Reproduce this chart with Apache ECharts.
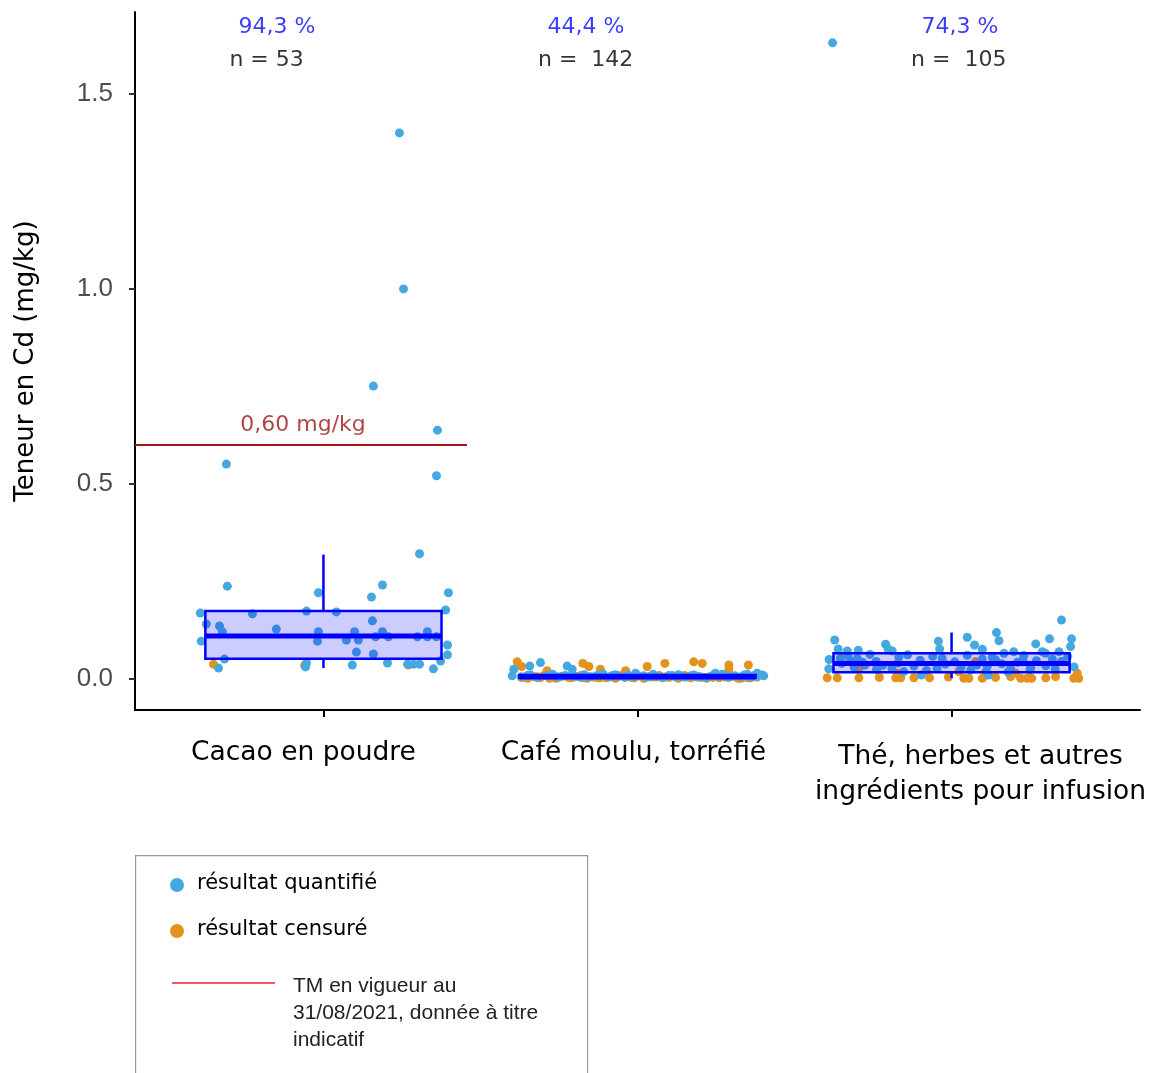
<!DOCTYPE html>
<html>
<head>
<meta charset="utf-8">
<script src="https://cdn.jsdelivr.net/npm/echarts@6/dist/echarts.min.js"></script>
<style>html,body{margin:0;padding:0;background:#fff;}#c{width:1155px;height:1073px;}</style>
</head>
<body>
<div id="c"></div>
<script>
// ---- Data ----
const categories = ['Cacao en poudre', 'Café moulu, torréfié', 'Thé, herbes et autres\ningrédients pour infusion'];
const yTicks = [0, 0.5, 1.0, 1.5];
const pctLabels = ['94,3 %', '44,4 %', '74,3 %'];
const pctPos = [[0.852, 1.672], [1.836, 1.672], [3.027, 1.672]];
const nLabels = ['n = 53', 'n =  142', 'n =  105'];
const nPos = [[0.819, 1.585], [1.835, 1.585], [3.023, 1.585]];
const thresholdValue = 0.60;
const thresholdRange = [0.4, 1.457];
const thresholdLabel = '0,60 mg/kg';
const thresholdLabelPos = [0.935, 0.65];
// box stats: [lowerWhisker, Q1, median, Q3, upperWhisker]
const boxCacao = [0.028, 0.052, 0.110, 0.174, 0.319];
const boxCafe = [0.000, 0.003, 0.005, 0.010, 0.012];
const boxThe = [0.002, 0.017, 0.040, 0.066, 0.119];
// points: [jitter offset from category, value mg/kg]
const cacaoQuant = [[0.242,1.400],[0.255,1.000],[0.159,0.751],[0.363,0.638],[0.360,0.521],[-0.309,0.551],[0.306,0.321],[0.188,0.241],[-0.306,0.238],[0.153,0.210],[0.398,0.221],[-0.016,0.221],[0.389,0.177],[-0.392,0.169],[-0.226,0.167],[-0.054,0.174],[0.041,0.172],[0.156,0.149],[-0.373,0.141],[-0.331,0.136],[-0.322,0.121],[-0.150,0.128],[-0.016,0.121],[-0.019,0.097],[-0.389,0.097],[0.099,0.121],[0.073,0.100],[0.111,0.100],[0.188,0.121],[0.166,0.108],[0.207,0.108],[0.299,0.108],[0.331,0.121],[0.331,0.108],[0.360,0.108],[0.105,0.069],[0.159,0.064],[0.395,0.087],[0.395,0.062],[-0.315,0.051],[-0.334,0.028],[-0.054,0.041],[-0.057,0.031],[0.092,0.036],[0.204,0.041],[0.268,0.038],[0.287,0.038],[0.306,0.038],[0.350,0.026],[0.373,0.046]];
const cacaoCens = [[-0.350,0.038],[-0.060,0.035],[0.270,0.036]];
const cafeQuant = [[-0.394,0.025],[-0.399,0.008],[-0.343,0.033],[-0.309,0.042],[-0.224,0.033],[-0.208,0.025],[-0.006,0.015],[0.248,0.015],[0.381,0.015],[0.397,0.010],[0.402,0.008],
[-0.37,0.006],[-0.34,0.010],[-0.32,0.004],[-0.29,0.008],[-0.27,0.012],[-0.25,0.005],[-0.23,0.009],[-0.20,0.007],[-0.18,0.004],[-0.17,0.011],
[-0.15,0.006],[-0.13,0.008],[-0.11,0.013],[-0.09,0.005],[-0.08,0.009],[-0.06,0.007],[-0.04,0.004],[-0.03,0.010],[-0.01,0.006],[0.02,0.008],
[0.03,0.005],[0.05,0.012],[0.06,0.007],[0.08,0.004],[0.10,0.009],[0.12,0.006],[0.13,0.011],[0.15,0.005],[0.17,0.008],[0.18,0.010],
[0.20,0.006],[0.22,0.004],[0.24,0.009],[0.26,0.007],[0.27,0.012],[0.29,0.005],[0.31,0.008],[0.33,0.006],[0.34,0.010],[0.36,0.004],
[0.38,0.007],[-0.35,0.009],[-0.26,0.006],[-0.16,0.005],[-0.07,0.011],[0.04,0.006],[0.11,0.008],[0.19,0.005],[0.28,0.009],[0.35,0.012],
[-0.21,0.008],[0.14,0.007]];
const cafeCens = [[-0.383,0.044],[-0.369,0.032],[-0.288,0.021],[-0.174,0.040],[-0.155,0.032],[-0.118,0.025],[-0.038,0.021],[0.031,0.032],[0.087,0.040],[0.179,0.044],[0.206,0.040],[0.291,0.036],[0.291,0.025],[0.353,0.036],
[-0.37,0.004],[-0.35,0.002],[-0.33,0.006],[-0.31,0.003],[-0.30,0.008],[-0.27,0.005],[-0.26,0.002],[-0.24,0.007],[-0.22,0.004],[-0.21,0.003],
[-0.19,0.006],[-0.18,0.009],[-0.16,0.002],[-0.14,0.005],[-0.13,0.004],[-0.11,0.007],[-0.10,0.003],[-0.08,0.006],[-0.07,0.002],[-0.05,0.008],
[-0.04,0.005],[-0.02,0.004],[-0.01,0.003],[0.01,0.007],[0.02,0.002],[0.04,0.006],[0.05,0.005],[0.07,0.009],[0.08,0.003],[0.10,0.004],
[0.11,0.008],[0.13,0.002],[0.14,0.006],[0.16,0.005],[0.17,0.003],[0.19,0.007],[0.20,0.004],[0.22,0.002],[0.23,0.006],[0.25,0.010],
[0.26,0.003],[0.28,0.005],[0.29,0.004],[0.31,0.007],[0.32,0.002],[0.34,0.006],[0.35,0.003],[0.37,0.008],[0.38,0.005],[-0.36,0.004],
[-0.28,0.002],[-0.20,0.007],[-0.12,0.003],[-0.03,0.006],[0.06,0.005],[0.15,0.009],[0.24,0.004],[0.33,0.002],[-0.32,0.006],[-0.17,0.003],
[-0.06,0.008],[0.09,0.005],[0.21,0.004],[0.30,0.007],[0.36,0.003]];
const theQuant = [[-0.379,1.631],[-0.372,0.100],[-0.361,0.077],[-0.332,0.072],[-0.297,0.074],[-0.354,0.053],[-0.322,0.046],[-0.300,0.053],[-0.284,0.043],[-0.276,0.036],[-0.391,0.026],[-0.210,0.089],[-0.202,0.077],[-0.189,0.072],[-0.168,0.056],[-0.239,0.025],[-0.152,0.019],[-0.096,0.010],[-0.042,0.097],[-0.038,0.077],[-0.030,0.053],[-0.046,0.027],[0.350,0.151],[0.050,0.107],[0.143,0.119],[0.151,0.098],[0.073,0.087],[0.098,0.076],[0.268,0.090],[0.312,0.103],[0.382,0.103],[0.379,0.083],[0.289,0.070],[0.299,0.066],[0.342,0.070],[0.198,0.070],[0.167,0.066],[0.227,0.049],[0.140,0.049],[0.098,0.051],[0.321,0.051],[0.114,0.033],[0.252,0.030],[0.061,0.023],[0.117,0.010],[0.188,0.027],
[-0.35,0.040],[-0.33,0.060],[-0.31,0.030],[-0.26,0.063],[-0.24,0.045],[-0.22,0.035],[-0.19,0.028],[-0.17,0.041],[-0.14,0.062],[-0.12,0.033],[-0.10,0.048],[-0.08,0.022],[-0.06,0.058],[-0.02,0.038],[0.01,0.044],[0.03,0.030],[0.05,0.061],[0.08,0.036],[0.11,0.020],[0.13,0.055],[0.16,0.039],[0.18,0.018],[0.21,0.043],[0.23,0.060],[0.25,0.024],[0.27,0.047],[0.30,0.034],[0.33,0.026],[0.35,0.045],[0.37,0.058],[0.39,0.031],[-0.39,0.050]];
const theCens = [[-0.396,0.003],[-0.364,0.003],[-0.295,0.003],[-0.178,0.003],[-0.162,0.003],[-0.070,0.003],[-0.295,0.026],[-0.173,0.015],[0.023,0.019],[0.076,0.044],[0.039,0.002],[0.055,0.002],[0.098,0.002],[0.188,0.006],[0.204,0.015],[0.220,0.002],[0.241,0.002],[0.255,0.002],[0.331,0.006],[0.389,0.002],[0.400,0.015],[0.405,0.002],[-0.230,0.004],[-0.120,0.003],[0.140,0.004],[0.300,0.003],[-0.010,0.005]];

// ---- Build ----
const place = (arr, cat) => arr.map(p => [cat + p[0], p[1]]);
const quantData = [].concat(place(cacaoQuant, 1), place(cafeQuant, 2), place(theQuant, 3));
const censData = [].concat(place(cacaoCens, 1), place(cafeCens, 2), place(theCens, 3));
const boxData = [[1].concat(boxCacao), [2].concat(boxCafe), [3].concat(boxThe)];
const BLUE = '#45A8E0', ORANGE = '#E3921E';
const HALF = 0.376;
const FS = 26.5;

const labelFormatter = v => {
  const i = Math.round(v);
  return categories[i - 1].split('\n').map(s => '{c' + i + '|' + s + '}').join('\n');
};
const richStyles = {
  c1: {fontFamily: 'DejaVu Sans', fontSize: FS, color: '#000', padding: [0, 40, 0, 0]},
  c2: {fontFamily: 'DejaVu Sans', fontSize: FS, color: '#000', padding: [0, 8, 0, 0]},
  c3: {fontFamily: 'DejaVu Sans', fontSize: FS, color: '#000', lineHeight: 35, padding: [0, 0, 0, 58]}
};
const xBase = {
  type: 'value', min: 0.4, max: 3.6, position: 'bottom', splitLine: {show: false}
};

const chart = echarts.init(document.getElementById('c'), null, {renderer: 'canvas'});
chart.setOption({
  animation: false,
  backgroundColor: '#ffffff',
  grid: {left: 135, right: 15, top: 12, bottom: 363, containLabel: false, outerBoundsMode: 'none'},
  xAxis: [
    Object.assign({}, xBase, {
      axisLine: {show: true, onZero: false, lineStyle: {color: '#000', width: 2}},
      axisTick: {show: true, length: 7, lineStyle: {color: '#000', width: 2}, customValues: [1, 2]},
      axisLabel: {customValues: [1, 2], margin: 30, hideOverlap: false, formatter: labelFormatter, rich: richStyles}
    }),
    Object.assign({}, xBase, {
      axisLine: {show: false, onZero: false},
      axisTick: {show: true, length: 7, lineStyle: {color: '#000', width: 2}, customValues: [3]},
      axisLabel: {customValues: [3], margin: 30, hideOverlap: false, formatter: labelFormatter, rich: richStyles}
    })
  ],
  yAxis: {
    type: 'value', min: -0.0795, max: 1.710,
    name: 'Teneur en Cd (mg/kg)', nameLocation: 'middle', nameRotate: 90, nameGap: 96,
    nameTextStyle: {fontFamily: 'DejaVu Sans', fontSize: 26, color: '#000'},
    axisLine: {show: true, onZero: false, lineStyle: {color: '#000', width: 2}},
    axisTick: {show: true, length: 6, lineStyle: {color: '#333', width: 2}, customValues: yTicks},
    splitLine: {show: false},
    axisLabel: {customValues: yTicks, margin: 22, formatter: v => v.toFixed(1),
      fontFamily: 'Liberation Sans', fontSize: 26, color: '#4d4d4d'}
  },
  series: [
    {type: 'scatter', name: 'résultat censuré', data: censData, symbolSize: 9, z: 2,
     itemStyle: {color: ORANGE, opacity: 1}},
    {type: 'scatter', name: 'résultat quantifié', data: quantData, symbolSize: 9, z: 2,
     itemStyle: {color: BLUE, opacity: 1}},
    {type: 'custom', name: 'box', data: boxData, z: 3,
     encode: {x: 0, y: [1, 2, 3, 4, 5]},
     renderItem: function (params, api) {
       const x = api.value(0), lo = api.value(1), q1 = api.value(2), md = api.value(3), q3 = api.value(4), hi = api.value(5);
       const tl = api.coord([x - HALF, q3]), br = api.coord([x + HALF, q1]);
       const mL = api.coord([x - HALF, md]), mR = api.coord([x + HALF, md]);
       const wT = api.coord([x, hi]), wQ3 = api.coord([x, q3]), wQ1 = api.coord([x, q1]), wB = api.coord([x, lo]);
       const blue = '#0000ff';
       return {type: 'group', children: [
         {type: 'line', shape: {x1: wQ3[0], y1: wQ3[1], x2: wT[0], y2: wT[1]}, style: {stroke: blue, lineWidth: 2.5}},
         {type: 'line', shape: {x1: wQ1[0], y1: wQ1[1], x2: wB[0], y2: wB[1]}, style: {stroke: blue, lineWidth: 2.5}},
         {type: 'rect', shape: {x: tl[0], y: tl[1], width: br[0] - tl[0], height: br[1] - tl[1]},
          style: {fill: 'rgba(0,0,255,0.2)', stroke: blue, lineWidth: 2.5}},
         {type: 'line', shape: {x1: mL[0], y1: mL[1], x2: mR[0], y2: mR[1]}, style: {stroke: blue, lineWidth: 5}}
       ]};
     }},
    {type: 'line', name: 'TM', data: [[thresholdRange[0], thresholdValue], [thresholdRange[1], thresholdValue]],
     symbol: 'none', z: 4, lineStyle: {color: '#a3171b', width: 2}},
    {type: 'scatter', name: 'tmLabel', symbolSize: 0, z: 5,
     data: [{value: thresholdLabelPos, name: thresholdLabel}],
     label: {show: true, position: 'inside', formatter: p => p.name, fontFamily: 'DejaVu Sans', fontSize: 22, color: '#9c1518'}},
    {type: 'scatter', name: 'pct', symbolSize: 0, z: 5,
     data: pctLabels.map((t, i) => ({value: pctPos[i], name: t})),
     label: {show: true, position: 'inside', formatter: p => p.name, fontFamily: 'DejaVu Sans', fontSize: 22, color: '#0a0aff'}},
    {type: 'scatter', name: 'n', symbolSize: 0, z: 5,
     data: nLabels.map((t, i) => ({value: nPos[i], name: t})),
     label: {show: true, position: 'inside', formatter: p => p.name, fontFamily: 'DejaVu Sans', fontSize: 22, color: '#000'}}
  ],
  graphic: [
    {type: 'rect', left: 135, top: 855, shape: {width: 452, height: 240}, style: {fill: '#fff', stroke: '#999', lineWidth: 1.2}},
    {type: 'circle', shape: {cx: 177, cy: 885, r: 7}, style: {fill: BLUE}},
    {type: 'text', x: 197, y: 884, style: {text: 'résultat quantifié', fontFamily: 'DejaVu Sans', fontSize: 21, fill: '#000', verticalAlign: 'middle'}},
    {type: 'circle', shape: {cx: 177, cy: 931, r: 7}, style: {fill: ORANGE}},
    {type: 'text', x: 197, y: 930, style: {text: 'résultat censuré', fontFamily: 'DejaVu Sans', fontSize: 21, fill: '#000', verticalAlign: 'middle'}},
    {type: 'line', shape: {x1: 172, y1: 983, x2: 275, y2: 983}, style: {stroke: '#e8262b', lineWidth: 1.5}},
    {type: 'text', x: 293, y: 973, style: {text: 'TM en vigueur au\n31/08/2021, donnée à titre\nindicatif', fontFamily: 'Liberation Sans', fontSize: 21, lineHeight: 27, fill: '#222', verticalAlign: 'top'}}
  ]
});
</script>
</body>
</html>
